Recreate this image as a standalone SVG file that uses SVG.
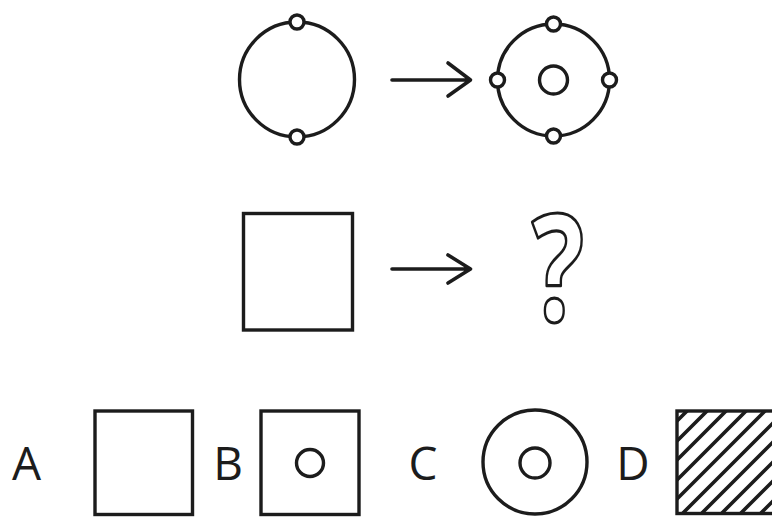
<svg xmlns="http://www.w3.org/2000/svg" width="772" height="519" viewBox="0 0 772 519">
<defs>
<style>
.s{fill:#fff;stroke:#1c1c1c;stroke-width:3.4}
.n{fill:none;stroke:#1c1c1c;stroke-width:3.4}
.a{fill:none;stroke:#1c1c1c;stroke-width:3.6;stroke-linecap:round;stroke-linejoin:round}
.t{font-family:"Open Sans","Noto Sans",sans-serif;font-size:46px;fill:#1c1c1c}
</style>
<clipPath id="clipD"><rect x="677" y="411" width="97" height="102.5"/></clipPath>
</defs>
<rect width="772" height="519" fill="#fff"/>
<g id="fig1">
<circle class="n" cx="297" cy="79.5" r="57.5"/>
<circle class="s" cx="297" cy="22" r="7"/>
<circle class="s" cx="297" cy="137" r="7"/>
</g>
<g id="fig2">
<circle class="n" cx="553.5" cy="80" r="56"/>
<circle class="s" cx="553.5" cy="24" r="7"/>
<circle class="s" cx="553.5" cy="136" r="7"/>
<circle class="s" cx="497.5" cy="80" r="7"/>
<circle class="s" cx="609.5" cy="80" r="7"/>
<circle class="n" cx="553.5" cy="80" r="14"/>
</g>
<g id="fig3">
<rect class="n" x="243.5" y="213.5" width="109" height="116.5"/>
</g>
<g id="fig4">
<text x="0" y="0" transform="translate(558,321) scale(0.74,1)" text-anchor="middle" font-family="'Open Sans','Noto Sans',sans-serif" font-weight="bold" font-size="149" fill="#fff" stroke="#1c1c1c" stroke-width="3.2" stroke-linejoin="round">?</text>
</g>
<g id="connectors">
<path class="a" d="M392 80H470M448 63L470.5 80L448 96"/>
<path class="a" d="M392 269H470M448 255L470.5 269L448 283"/>
</g>
<g id="optA">
<text class="t" x="26.5" y="480" text-anchor="middle">A</text>
<rect class="n" x="95" y="411" width="97.5" height="103.5"/>
</g>
<g id="optB">
<text class="t" x="228" y="480" text-anchor="middle">B</text>
<rect class="n" x="261" y="411" width="98" height="103.5"/>
<circle class="n" cx="310" cy="463" r="13.5"/>
</g>
<g id="optC">
<text class="t" x="423" y="480" text-anchor="middle">C</text>
<circle class="n" cx="535" cy="462" r="52"/>
<circle class="n" cx="535" cy="463" r="15"/>
</g>
<g id="optD">
<text class="t" x="633" y="480" text-anchor="middle">D</text>
<g clip-path="url(#clipD)" stroke="#1c1c1c" stroke-width="3.6">
<path d="M577 521L787 311M597 521L807 311M616 521L826 311M636 521L846 311M655 521L865 311M675 521L885 311M694 521L904 311M714 521L924 311M733 521L943 311M753 521L963 311M772 521L982 311M792 521L1002 311M811 521L1021 311"/>
</g>
<rect class="n" x="677" y="411" width="99" height="102.5"/>
</g>
</svg>
